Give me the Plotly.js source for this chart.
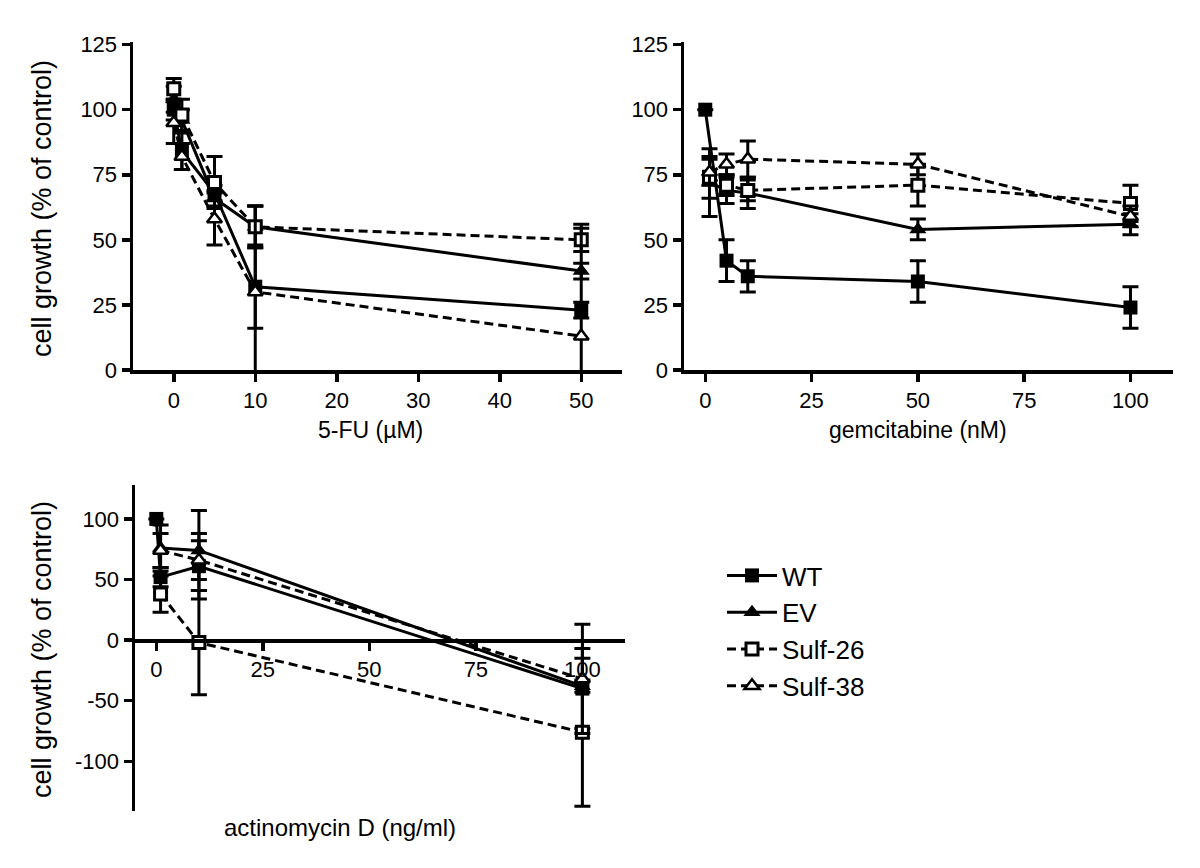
<!DOCTYPE html>
<html>
<head>
<meta charset="utf-8">
<script src="https://cdn.plot.ly/plotly-3.0.1.min.js"></script>
<style>html,body{margin:0;padding:0;background:#fff;}#chart{width:1200px;height:868px;}</style>
</head>
<body>
<div id="chart"></div>
<script>
// ---------- data ----------
const seriesNames = ["WT", "EV", "Sulf-26", "Sulf-38"];

// Panel 1: 5-FU (µM)
const fuDose = [0, 1, 5, 10, 50];
const fuWT = [100, 84, 68, 32, 23];
const fuWTerr = [4, 7, 3, 16, 3];
const fuEV = [104, 96, 66, 55, 38];
const fuEVerr = [5, 4, 3, 8, 3];
const fuS26 = [108, 98, 72, 55, 50];
const fuS26err = [4, 6, 10, 8, 4.5];
const fuS38 = [95, 82, 58, 30, 13];
const fuS38err = [8, 5, 10, 33, 43];

// Panel 2: gemcitabine (nM)
const gemDoseWT = [0, 5, 10, 50, 100];
const gemDose = [1, 5, 10, 50, 100];
const gemWT = [100, 42, 36, 34, 24];
const gemWTerr = [0, 8, 6, 8, 8];
const gemEV = [72, 69, 68, 54, 56];
const gemEVerr = [13, 5, 6, 4, 4];
const gemS26 = [74, 71, 69, 71, 64];
const gemS26err = [8, 4, 4, 8, 7];
const gemS38 = [76, 79, 81, 79, 59];
const gemS38err = [5, 4, 7, 4, 4];

// Panel 3: actinomycin D (ng/ml)
const actDoseWT = [0, 1, 10, 100];
const actDose = [1, 10, 100];
const actWT = [100, 52, 61, -40];
const actWTerr = [0, 8, 27, 33];
const actEV = [76, 74, -38];
const actEVerr = [19, 33, 5];
const actS26 = [38, -2, -76];
const actS26err = [15, 43, 61];
const actS38 = [74, 66, -32];
const actS38err = [14, 16, 45];

const yTicks12 = [0, 25, 50, 75, 100, 125];
const fuTicks = [0, 10, 20, 30, 40, 50];
const gemTicks = [0, 25, 50, 75, 100];
const actXTicks = [0, 25, 50, 75, 100];
const actYTicks = [-100, -50, 0, 50, 100];
const actYTickText = ["-100", "-50", "0", "50", "100"];

// ---------- styles ----------
const FONT = "Liberation Sans, Arial, Helvetica, sans-serif";
const styles = {
  "WT":      {dash: "solid",   marker: {symbol: "square", size: 14, color: "black", line: {width: 0}}},
  "EV":      {dash: "solid",   marker: {symbol: "triangle-up", size: 15, color: "black", line: {width: 0}}},
  "Sulf-26": {dash: "9px,5px", marker: {symbol: "square", size: 12, color: "white", line: {width: 3, color: "black"}}},
  "Sulf-38": {dash: "9px,5px", marker: {symbol: "triangle-up", size: 13, color: "white", line: {width: 2.5, color: "black"}}}
};

function mk(x, y, err, name, xa, ya, showlegend) {
  const s = styles[name];
  return {
    type: "scatter", mode: "lines+markers", x: x, y: y, name: name,
    xaxis: xa, yaxis: ya, showlegend: showlegend, legendgroup: name,
    line: {color: "black", width: 3, dash: s.dash},
    marker: s.marker,
    error_y: {type: "data", array: err, visible: true, color: "black", thickness: 3, width: 8},
    cliponaxis: true, hoverinfo: "skip"
  };
}

const traces = [
  mk(fuDose, fuWT, fuWTerr, "WT", "x", "y", true),
  mk(fuDose, fuEV, fuEVerr, "EV", "x", "y", true),
  mk(fuDose, fuS26, fuS26err, "Sulf-26", "x", "y", true),
  mk(fuDose, fuS38, fuS38err, "Sulf-38", "x", "y", true),
  mk(gemDoseWT, gemWT, gemWTerr, "WT", "x2", "y2", false),
  mk(gemDose, gemEV, gemEVerr, "EV", "x2", "y2", false),
  mk(gemDose, gemS26, gemS26err, "Sulf-26", "x2", "y2", false),
  mk(gemDose, gemS38, gemS38err, "Sulf-38", "x2", "y2", false),
  mk(actDoseWT, actWT, actWTerr, "WT", "x3", "y3", false),
  mk(actDose, actEV, actEVerr, "EV", "x3", "y3", false),
  mk(actDose, actS26, actS26err, "Sulf-26", "x3", "y3", false),
  mk(actDose, actS38, actS38err, "Sulf-38", "x3", "y3", false)
];

// ---------- layout ----------
const W = 1200, H = 868;
const fx = p => p / W;
const fy = p => 1 - p / H;

const axBase = {
  showgrid: false, zeroline: false, showline: true, linecolor: "black", linewidth: 3.5,
  ticks: "outside", ticklen: 8, tickwidth: 3.5, tickcolor: "black",
  tickfont: {family: FONT, size: 22, color: "black"}, fixedrange: true
};

function ann(text, px, py, size, angle, xanchor) {
  return {text: text, x: fx(px), y: fy(py), xref: "paper", yref: "paper", showarrow: false,
          textangle: angle || 0, xanchor: xanchor || "center", yanchor: "middle",
          font: {family: FONT, size: size, color: "black"}};
}

const layout = {
  width: W, height: H,
  margin: {l: 0, r: 0, t: 0, b: 0},
  paper_bgcolor: "white", plot_bgcolor: "white",
  font: {family: FONT, color: "black"},
  xaxis: Object.assign({}, axBase, {domain: [fx(133), fx(622)], range: [-5, 55], tickvals: fuTicks, anchor: "y"}),
  yaxis: Object.assign({}, axBase, {domain: [fy(370), fy(42)], range: [0, 126], tickvals: yTicks12, anchor: "x"}),
  xaxis2: Object.assign({}, axBase, {domain: [fx(684), fx(1173)], range: [-5, 110], tickvals: gemTicks, anchor: "y2"}),
  yaxis2: Object.assign({}, axBase, {domain: [fy(370), fy(42)], range: [0, 126], tickvals: yTicks12, anchor: "x2"}),
  xaxis3: Object.assign({}, axBase, {domain: [fx(135), fx(625)], range: [-5, 110], tickvals: actXTicks, anchor: "free", position: fy(640)}),
  yaxis3: Object.assign({}, axBase, {domain: [fy(811), fy(485)], range: [-141, 128], tickvals: actYTicks, ticktext: actYTickText, anchor: "x3"}),
  showlegend: true,
  legend: {
    x: fx(722), y: fy(552), xanchor: "left", yanchor: "top",
    font: {family: FONT, size: 26, color: "black"},
    bgcolor: "rgba(0,0,0,0)", borderwidth: 0, tracegroupgap: 0, itemwidth: 50
  },
  annotations: [
    ann("cell growth (% of control)", 42, 209, 27, -90),
    ann("cell growth (% of control)", 42, 650, 27, -90),
    ann("5-FU (µM)", 370, 430, 23),
    ann("gemcitabine (nM)", 918, 430, 23),
    ann("actinomycin D (ng/ml)", 222, 827, 24, 0, "left")
  ]
};

Plotly.newPlot("chart", traces, layout, {staticPlot: true, displayModeBar: false});
</script>
</body>
</html>
